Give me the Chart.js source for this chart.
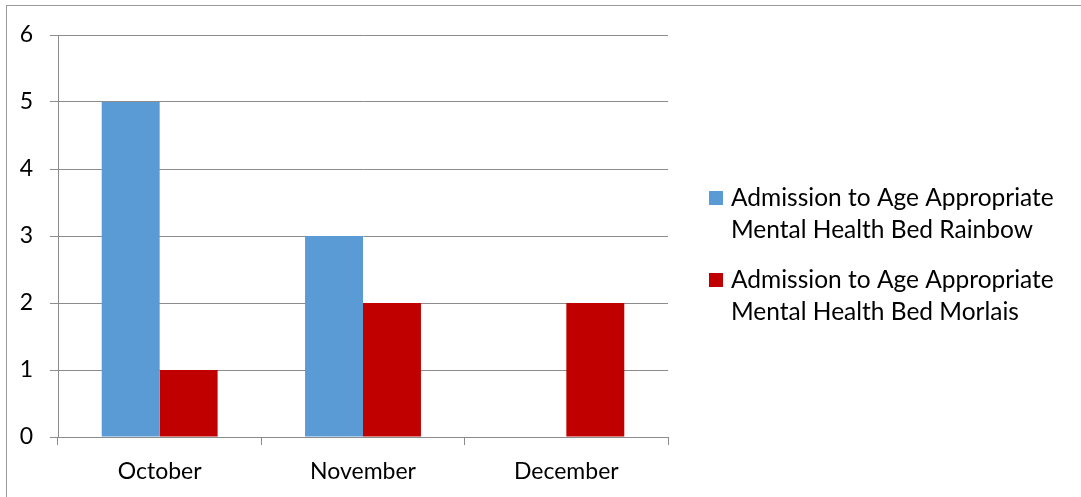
<!DOCTYPE html>
<html>
<head>
<meta charset="utf-8">
<script src="https://cdn.jsdelivr.net/npm/chart.js@4"></script>
<style>
  html, body { margin: 0; padding: 0; background: #fff; overflow: hidden; }
  #frame {
    position: absolute; left: 6px; top: 5px; width: 1200px; height: 600px;
    border: 1px solid #999; box-sizing: border-box;
  }
  #wrap { position: absolute; left: 0; top: 0; width: 1081px; height: 497px; }
</style>
</head>
<body>
<div id="frame"></div>
<div id="wrap"><canvas id="chart"></canvas></div>
<script>
// data
const months = ['October', 'November', 'December'];
const rainbow = [5, 3, 0];
const morlais = [1, 2, 2];
const seriesNames = [
  'Admission to Age Appropriate Mental Health Bed Rainbow',
  'Admission to Age Appropriate Mental Health Bed Morlais'
];
const yTicks = [0, 1, 2, 3, 4, 5, 6];

const FONT = 'Lato, "Open Sans", sans-serif';
const gridGray = '#8c8c8c';

// legend on the right, wrapped onto two lines like the original
const sideLegend = {
  id: 'sideLegend',
  afterDraw(chart) {
    const ctx = chart.ctx;
    ctx.save();
    ctx.font = '24.5px ' + FONT;
    ctx.textBaseline = 'middle';
    ctx.fillStyle = '#000';
    const boxX = 709, textX = 731, maxW = 345, lineH = 32, gap = 18;
    let y = 198;
    chart.data.datasets.forEach(ds => {
      // word wrap
      const words = ds.label.split(' ');
      const lines = [];
      let cur = '';
      words.forEach(w => {
        const test = cur ? cur + ' ' + w : w;
        if (ctx.measureText(test).width > maxW && cur) { lines.push(cur); cur = w; }
        else cur = test;
      });
      lines.push(cur);
      ctx.fillStyle = ds.backgroundColor;
      ctx.fillRect(boxX, y - 7, 14, 14);
      ctx.fillStyle = '#000';
      lines.forEach((l, i) => ctx.fillText(l, textX, y + i * lineH));
      y += lines.length * lineH + gap;
    });
    ctx.restore();
  }
};

new Chart(document.getElementById('chart'), {
  type: 'bar',
  data: {
    labels: months,
    datasets: [{
      label: seriesNames[0],
      data: rainbow,
      backgroundColor: '#5b9bd5'
    }, {
      label: seriesNames[1],
      data: morlais,
      backgroundColor: '#c00000'
    }]
  },
  options: {
    responsive: true,
    maintainAspectRatio: false,
    animation: false,
    categoryPercentage: 0.57,
    barPercentage: 1,
    layout: { padding: { left: 0, top: 35, right: 413, bottom: 0 } },
    scales: {
      x: {
        grid: { drawOnChartArea: false, drawTicks: true, tickLength: 8, color: gridGray },
        border: { color: gridGray },
        ticks: { color: '#000', font: { family: FONT, size: 23 }, padding: 13 },
        afterFit(scale) { scale.height = 60; }
      },
      y: {
        min: 0,
        max: 6,
        afterBuildTicks(scale) { scale.ticks = yTicks.map(v => ({ value: v })); },
        grid: { color: gridGray, tickLength: 8 },
        border: { color: gridGray },
        ticks: { color: '#000', font: { family: FONT, size: 23 }, padding: 17 },
        afterFit(scale) { scale.width = 58; }
      }
    },
    plugins: {
      legend: { display: false },
      tooltip: { enabled: false }
    }
  },
  plugins: [sideLegend]
});
</script>
</body>
</html>
